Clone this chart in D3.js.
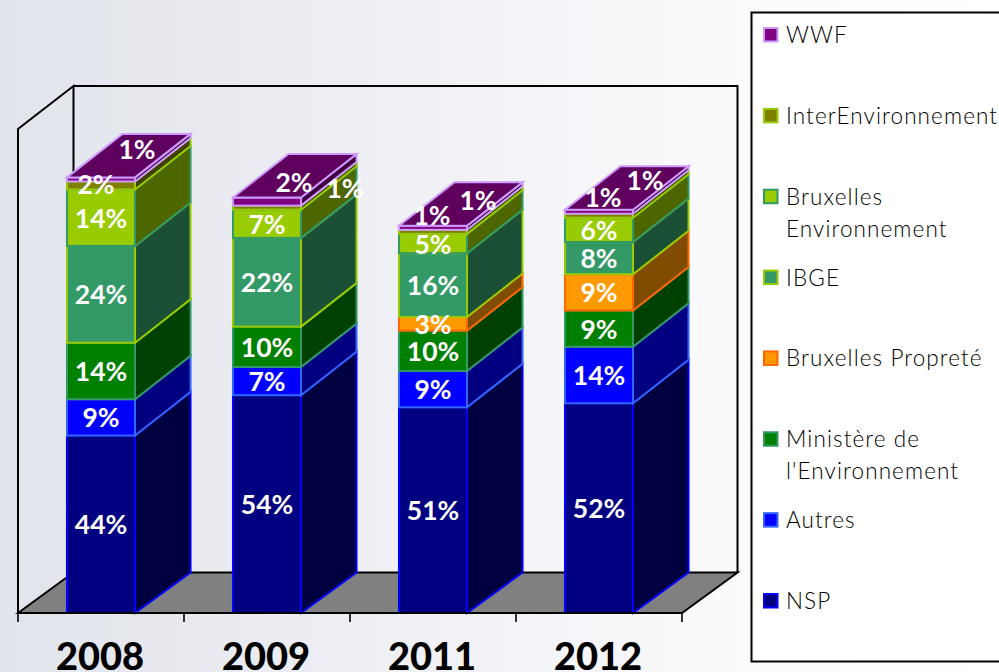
<!DOCTYPE html>
<html>
<head>
<meta charset="utf-8">
<script src="https://d3js.org/d3.v7.min.js"></script>
<style>
	html, body { margin: 0; padding: 0; background: #fff; }
	svg { display: block; }
	text { font-family: Lato, "Open Sans", sans-serif; }
</style>
</head>
<body>
<div id="chart"></div>
<script>
// data
var years = ["2008", "2009", "2011", "2012"];
var seriesNames = ["NSP", "Autres", "Ministère de l'Environnement", "Bruxelles Propreté", "IBGE", "Bruxelles Environnement", "InterEnvironnement", "WWF"];
var nsp = [44, 54, 51, 52];
var autres = [9, 7, 9, 14];
var ministere = [14, 10, 10, 9];
var propreteBxl = [0, 0, 3.4, 9];
var ibge = [24, 22, 15.8, 8];
var bxlEnv = [14, 7, 4.8, 6];
var interEnv = [2, 1, 1, 1];
var wwf = [1, 2, 1, 1];
var allSeries = [nsp, autres, ministere, propreteBxl, ibge, bxlEnv, interEnv, wwf];

// styles per series: front, edge, side
var fronts = ["#000080", "#0000ff", "#008000", "#ff9900", "#339966", "#99cc00", "#808000", "#800080"];
var edges = ["#0000ff", "#3366ff", "#339966", "#ff6600", "#99cc00", "#339966", "#99cc00", "#cc99ff"];
var sides = ["#000040", "#000080", "#004000", "#804c00", "#1c5036", "#4d6600", "#404000", "#400040"];
var topFace = "#5f005f";

var width = 999;
var height = 672;
var floorY = 613;
var depthX = 55.5;
var depthY = -43.5;
var floorDepthY = -40.5; // the floor is a bit shallower than the tops of the bars

var svg = d3.select("#chart").append("svg")
	.attr("width", width)
	.attr("height", height);

// page background
var grad = svg.append("defs").append("linearGradient")
	.attr("id", "bg")
	.attr("x1", "0%").attr("x2", "100%").attr("y1", "0%").attr("y2", "0%");
grad.append("stop").attr("offset", "0%").attr("stop-color", "#e1e4eb");
grad.append("stop").attr("offset", "75%").attr("stop-color", "#fbfbfd");
grad.append("stop").attr("offset", "100%").attr("stop-color", "#ffffff");
svg.append("rect").attr("width", width).attr("height", height).attr("fill", "url(#bg)");

var xScale = d3.scaleBand().domain(years).range([18, 682]).paddingInner(0.59).paddingOuter(0.295);
var yScale = d3.scaleLinear().domain([0, 120]).range([floorY, 129]);

// floor and walls
var frame = svg.append("g").attr("fill", "none").attr("stroke", "#000").attr("stroke-width", 2);
var x0 = xScale.range()[0];
var x1 = xScale.range()[1];
var yTop = yScale(120);
frame.append("path")
	.attr("fill", "#808080")
	.attr("d", d3.line()([[x0, floorY], [x0 + depthX, floorY + floorDepthY], [x1 + depthX, floorY + floorDepthY], [x1, floorY]]) + "Z");
frame.append("path")
	.attr("d", d3.line()([[x0, floorY], [x0, yTop], [x0 + depthX, yTop - 43], [x0 + depthX, floorY + floorDepthY]]));
frame.append("path")
	.attr("d", d3.line()([[x0 + depthX, yTop - 43], [x1 + depthX, yTop - 43], [x1 + depthX, floorY + floorDepthY]]));

// bars
var stacked = years.map(function (year, i) {
	var sum = 0;
	return allSeries.map(function (s, k) {
		var seg = { year: year, k: k, value: s[i], y0: sum, y1: sum + s[i] };
		sum += s[i];
		return seg;
	}).filter(function (d) { return d.value > 0; });
});

var column = svg.selectAll(".column").data(stacked).enter().append("g").attr("class", "column");

column.each(function (segs) {
	var g = d3.select(this);
	segs.forEach(function (d) {
		var left = xScale(d.year);
		var right = left + xScale.bandwidth();
		var yb = yScale(d.y0);
		var yt = yScale(d.y1);
		var backBase = d.y0 === 0 ? floorDepthY : depthY;
		g.append("rect")
			.attr("x", left).attr("y", yt)
			.attr("width", right - left).attr("height", yb - yt)
			.attr("fill", fronts[d.k]).attr("stroke", edges[d.k]).attr("stroke-width", 2);
		g.append("path")
			.attr("d", d3.line()([[right, yb], [right + depthX, yb + backBase], [right + depthX, yt + depthY], [right, yt]]) + "Z")
			.attr("fill", sides[d.k]).attr("stroke", edges[d.k]).attr("stroke-width", 2);
	});
	var last = segs[segs.length - 1];
	var l = xScale(last.year);
	var r = l + xScale.bandwidth();
	var t = yScale(last.y1);
	g.append("path")
		.attr("d", d3.line()([[l, t], [l + depthX, t + depthY], [r + depthX, t + depthY], [r, t]]) + "Z")
		.attr("fill", topFace).attr("stroke", edges[last.k]).attr("stroke-width", 2);
});

// x axis
var tickScale = d3.scaleLinear().domain([0, 4]).range([x0, x1]);
svg.append("line").attr("x1", x0).attr("x2", x1).attr("y1", floorY).attr("y2", floorY)
	.attr("stroke", "#000").attr("stroke-width", 2);
svg.selectAll(".tick").data(d3.range(5)).enter().append("line")
	.attr("class", "tick")
	.attr("x1", tickScale).attr("x2", tickScale)
	.attr("y1", floorY).attr("y2", floorY + 9)
	.attr("stroke", "#000").attr("stroke-width", 1.6);
svg.selectAll(".year").data(years).enter().append("text")
	.attr("class", "year")
	.attr("x", function (d) { return xScale(d) + xScale.bandwidth() / 2 - 1; })
	.attr("y", 670)
	.attr("text-anchor", "middle")
	.attr("font-size", 38)
	.attr("font-weight", 900)
	.attr("fill", "#000")
	.text(function (d) { return d; });

// value labels; the top two series were nudged by hand in the original
var labelShift = {
	"2008-6": [-5, -1], "2008-7": [36, -30], "2009-6": [78, -20], "2009-7": [27, -20],
	"2011-6": [-1, -17], "2011-7": [45, -28], "2012-6": [4, -19], "2012-7": [46, -32]
};
var labels = svg.selectAll(".label").data(d3.merge(stacked)).enter().append("text")
	.attr("class", "label")
	.attr("text-anchor", "middle")
	.attr("font-size", 26.5)
	.attr("font-weight", 700)
	.attr("fill", "#fff")
	.attr("x", function (d) {
		var s = labelShift[d.year + "-" + d.k] || [0, 0];
		return xScale(d.year) + xScale.bandwidth() / 2 + s[0];
	})
	.attr("y", function (d) {
		var s = labelShift[d.year + "-" + d.k] || [0, 0];
		return (yScale(d.y0) + yScale(d.y1)) / 2 + 10 + s[1];
	})
	.text(function (d) { return Math.round(d.value) + "%"; });

// legend
var legend = svg.append("g");
legend.append("rect")
	.attr("x", 751.5).attr("y", 12.5).attr("width", 260).attr("height", 649)
	.attr("fill", "#fff").attr("stroke", "#000").attr("stroke-width", 2);

var legendLines = [["NSP"], ["Autres"], ["Ministère de", "l'Environnement"], ["Bruxelles Propreté"], ["IBGE"], ["Bruxelles", "Environnement"], ["InterEnvironnement"], ["WWF"]];
var legendY = d3.scalePoint().domain(seriesNames).range([601, 35]);
var item = legend.selectAll(".item").data(seriesNames).enter().append("g")
	.attr("class", "item")
	.attr("transform", function (d) { return "translate(0," + legendY(d) + ")"; });
item.append("rect")
	.attr("x", 764).attr("y", -7).attr("width", 13.5).attr("height", 13.5)
	.attr("fill", function (d, i) { return fronts[i]; })
	.attr("stroke", function (d, i) { return edges[i]; })
	.attr("stroke-width", 2);
item.each(function (d, i) {
	d3.select(this).selectAll("text").data(legendLines[i]).enter().append("text")
		.attr("x", 786)
		.attr("y", function (t, j) { return 8 + j * 32; })
		.attr("font-size", 22.5)
		.attr("letter-spacing", 1.1)
		.attr("font-weight", 300)
		.attr("fill", "#000")
		.text(function (t) { return t; });
});
</script>
</body>
</html>
